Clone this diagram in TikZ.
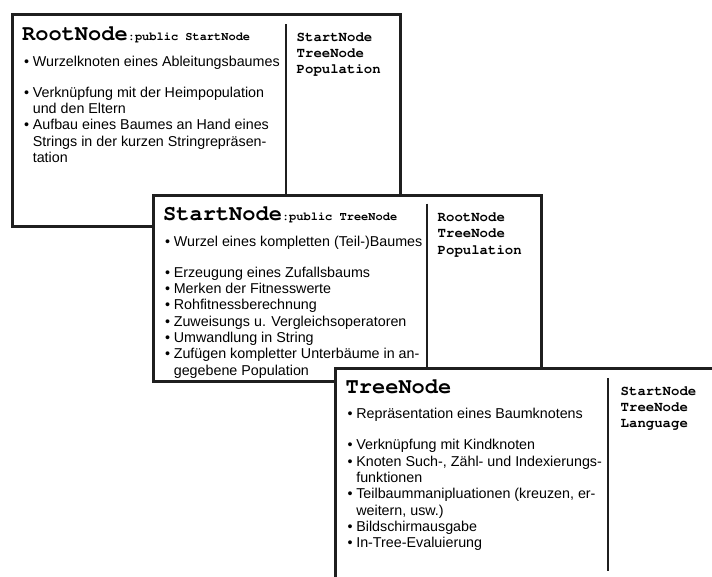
\documentclass[tikz,border=0pt]{standalone}
\usepackage{fontspec}
\usepackage[T1,TU]{fontenc}
\setmainfont{Liberation Sans}
\usetikzlibrary{calc}
% bold Courier for class names and collaborators
\newcommand\crcmono{\fontencoding{T1}\fontfamily{pcr}\fontseries{b}\fontshape{n}\selectfont}
\tikzset{
  card/.style={draw=black!88, fill=white, line width=3pt, rectangle, inner sep=0pt,
    minimum width=388.5pt, minimum height=#1, anchor=north west},
  divider/.style={draw=black!88, line width=2.4pt},
  cardtitle/.style={anchor=base west, inner sep=0pt, font=\crcmono},
  respons/.style={anchor=base west, inner sep=0pt, font=\fontsize{14.3}{16.3}\selectfont},
  collab/.style={anchor=base west, inner sep=0pt,
    font=\crcmono\fontsize{14}{16.3}\selectfont},
}
\newcommand\bigname[1]{{\fontsize{22}{22}\selectfont #1}}
\newcommand\supname[1]{{\fontsize{12}{12}\selectfont #1}}
\newenvironment{resplist}{\begin{tabular}[t]{@{}l@{\hspace{3.6pt}}l@{}}}{\end{tabular}}
\newenvironment{collist}{\begin{tabular}[t]{@{}l@{}}}{\end{tabular}}
\begin{document}
\begin{tikzpicture}[x=1pt,y=-1pt]
\useasboundingbox (0,0) rectangle (712,576);
\clip (0,0) rectangle (712,576);

% ---- RootNode card
\node[card=212pt] (root) at (10.5,13) {};
\coordinate (roottop) at ($(root.north west)+(275.5,11)$);
\coordinate (rootbot) at ($(root.south west)+(275.5,-11)$);
\draw[divider] (roottop) -- (rootbot);
\node[cardtitle] (roottitle) at ($(root.north west)+(11.5,27)$)
  {\bigname{RootNode}\supname{:public StartNode}};
\node[respons] (rootresp) at ($(root.north west)+(13.5,53)$) {%
  \begin{resplist}
  • & Wurzelknoten eines Ableitungsbaumes\\[15pt]
  • & Verknüpfung mit der Heimpopulation\\
    & und den Eltern\\
  • & Aufbau eines Baumes an Hand eines\\
    & Strings in der kurzen Stringrepräsen-\\
    & tation
  \end{resplist}};
\node[collab] (rootcollab) at ($(root.north west)+(286,28)$)
  {\begin{collist}StartNode\\TreeNode\\Population\end{collist}};

% ---- StartNode card
\node[card=186.5pt] (start) at (151.5,193.5) {};
\coordinate (starttop) at ($(start.north west)+(275.5,10)$);
\coordinate (startbot) at ($(start.south west)+(275.5,-10)$);
\draw[divider] (starttop) -- (startbot);
\node[cardtitle] (starttitle) at ($(start.north west)+(11.5,27)$)
  {\bigname{StartNode}\supname{:public TreeNode}};
\node[respons] (startresp) at ($(start.north west)+(13.5,52.5)$) {%
  \begin{resplist}
  • & Wurzel eines kompletten (Teil-)Baumes\\[15pt]
  • & Erzeugung eines Zufallsbaums\\
  • & Merken der Fitnesswerte\\
  • & Rohfitnessberechnung\\
  • & Zuweisungs u. Vergleichsoperatoren\\
  • & Umwandlung in String\\
  • & Zufügen kompletter Unterbäume in an-\\
    & gegebene Population
  \end{resplist}};
\node[collab] (startcollab) at ($(start.north west)+(286,28)$)
  {\begin{collist}RootNode\\TreeNode\\Population\end{collist}};

% ---- TreeNode card
\node[card=212pt] (tree) at (334,366.5) {};
\coordinate (treetop) at ($(tree.north west)+(274,11.5)$);
\coordinate (treebot) at ($(tree.south west)+(274,-10.5)$);
\draw[divider] (treetop) -- (treebot);
\node[cardtitle] (treetitle) at ($(tree.north west)+(11.5,27)$)
  {\bigname{TreeNode}};
\node[respons] (treeresp) at ($(tree.north west)+(13.5,52)$) {%
  \begin{resplist}
  • & Repräsentation eines Baumknotens\\[15pt]
  • & Verknüpfung mit Kindknoten\\
  • & Knoten Such-, Zähl- und Indexierungs-\\
    & funktionen\\
  • & Teilbaummanipluationen (kreuzen, er-\\
    & weitern, usw.)\\
  • & Bildschirmausgabe\\
  • & In-Tree-Evaluierung
  \end{resplist}};
\node[collab] (treecollab) at ($(tree.north west)+(286.5,28.5)$)
  {\begin{collist}StartNode\\TreeNode\\Language\end{collist}};
\end{tikzpicture}
\end{document}
